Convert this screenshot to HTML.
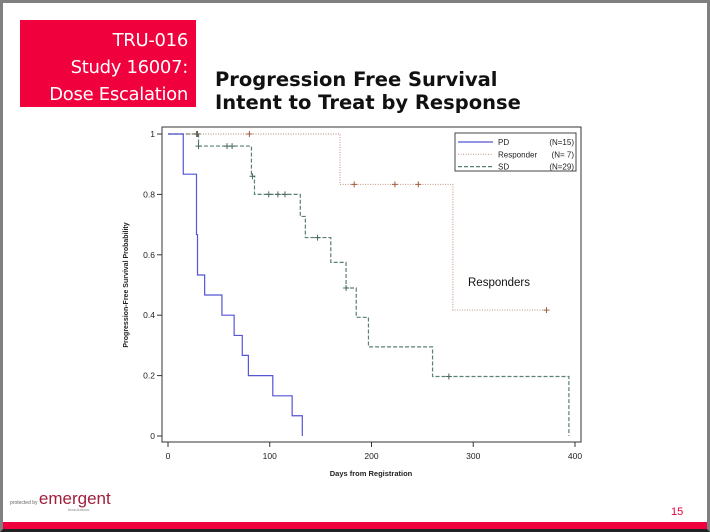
<!DOCTYPE html>
<html><head><meta charset="utf-8"><style>
body{margin:0;width:710px;height:532px;overflow:hidden;background:#fff;font-family:"Liberation Sans",sans-serif}
#frame{position:absolute;left:0;top:0;width:704px;height:526px;border:3px solid #808080;border-bottom:3px solid #222}
#tag{position:absolute;left:20px;top:20px;width:176px;height:87px;background:#f0003c;color:#fff;font-family:"DejaVu Sans",sans-serif;font-size:18px;line-height:27px;text-align:right;box-sizing:border-box;padding:7px 8px 0 0;letter-spacing:-0.3px}
#title{position:absolute;left:215px;top:68px;font-family:"DejaVu Sans",sans-serif;font-weight:bold;font-size:19.5px;line-height:23px;color:#111}
#bar{position:absolute;left:3px;top:522px;width:704px;height:7px;background:#f0003c}
#pg{position:absolute;left:671px;top:506px;font-size:11px;color:#e0003c}
#logo{position:absolute;left:10px;top:489px;color:#a0203c;font-size:17px}
</style></head><body>
<div id="frame"></div>
<div id="tag">TRU-016<br>Study 16007:<br>Dose Escalation</div>
<div id="title">Progression Free Survival<br>Intent to Treat by Response</div>
<div id="logo"><span style="font-size:5px;color:#666">protected by </span>emergent<div style="font-size:4px;color:#888;margin-left:58px;margin-top:-2px">biosolutions</div></div>
<div id="pg">15</div>
<div id="bar"></div>
<svg id="chart" width="710" height="532" style="position:absolute;left:0;top:0"></svg>
<script>
const pdTimes=[0,15,28,29,36,53,65,73,79,103,122,132];
const pdSurv=[1,0.867,0.667,0.533,0.467,0.4,0.333,0.267,0.2,0.133,0.067,0];
const pdEnd=132;
const rTimes=[0,169,280];
const rSurv=[1,0.833,0.417];
const rEnd=372;
const rCensT=[28,80,183,223,246,372];
const rCensS=[1,1,0.833,0.833,0.833,0.417];
const sdTimes=[0,30,82,85,130,135,160,175,185,197,260,394];
const sdSurv=[1,0.96,0.86,0.80,0.727,0.657,0.575,0.49,0.393,0.295,0.197,0];
const sdEnd=394;
const sdCensT=[29,30,58,63,83,99,108,115,147,175,276];
const sdCensS=[1,0.96,0.96,0.96,0.86,0.80,0.80,0.80,0.657,0.49,0.197];
const xTicks=[0,100,200,300,400];
const yTicks=[0,0.2,0.4,0.6,0.8,1];
const X=d=>168+d*407/400, Y=p=>436-p*302;
const svg=document.getElementById('chart');const NS='http://www.w3.org/2000/svg';
function el(t,a,p){const e=document.createElementNS(NS,t);for(const k in a)e.setAttribute(k,a[k]);(p||svg).appendChild(e);return e;}
const fr=el('rect',{x:162,y:127,width:419,height:315,fill:'none',stroke:'#333','stroke-width':1});


xTicks.forEach(v=>{el('line',{x1:X(v),x2:X(v),y1:442,y2:447,stroke:'#333'});const t=el('text',{x:X(v),y:459,'font-size':8.5,'text-anchor':'middle',fill:'#222'});t.textContent=v;

});
yTicks.forEach(v=>{el('line',{x1:157,x2:162,y1:Y(v),y2:Y(v),stroke:'#333'});const t=el('text',{x:155,y:Y(v)+3,'font-size':8.5,'text-anchor':'end',fill:'#222'});t.textContent=v;

});
let t=el('text',{x:371,y:476,'font-size':7.5,'font-weight':'bold','text-anchor':'middle',fill:'#222'});t.textContent='Days from Registration';


t=el('text',{x:0,y:0,'font-size':7,'font-weight':'bold','text-anchor':'middle',fill:'#222',transform:'translate(128,285) rotate(-90)'});t.textContent='Progression-Free Survival Probability';


function step(ts,ss,end,col,dash,name){let d='M'+X(ts[0])+','+Y(ss[0]);for(let i=1;i<ts.length;i++){d+='H'+X(ts[i])+'V'+Y(ss[i]);}d+='H'+X(end);
const p=el('path',{d:d,fill:'none',stroke:col,'stroke-width':1.2,'stroke-dasharray':dash});

}
function cens(ts,ss,col,name){ts.forEach((v,i)=>{const g=el('path',{d:`M${X(v)-3},${Y(ss[i])}h6M${X(v)},${Y(ss[i])-3}v6`,stroke:col,'stroke-width':1});

});}
step(sdTimes,sdSurv,sdEnd,'#5a8070','4,2','sd-line');
step(rTimes,rSurv,rEnd,'#c8a090','1,1.5','responder-line');
step(pdTimes,pdSurv,pdEnd,'#5555d5','','pd-line');
cens(rCensT,rCensS,'#a06040','responder-censor');
cens(sdCensT,sdCensS,'#4a6a60','sd-censor');
const lg=el('g',{});
el('rect',{x:455,y:133,width:121,height:38,fill:'#fff',stroke:'#444'},lg);
const ent=[['PD','(N=15)','#5555d5',''],['Responder','(N= 7)','#c8a090','1,1.5'],['SD','(N=29)','#5a8070','4,2']];
ent.forEach((e,i)=>{const y=142+i*12.3;el('line',{x1:458,x2:493,y1:y,y2:y,stroke:e[2],'stroke-width':1.2,'stroke-dasharray':e[3]},lg);
const a=el('text',{x:498,y:y+3,'font-size':8,fill:'#222'},lg);a.textContent=e[0];
const b=el('text',{x:574,y:y+3,'font-size':8,'text-anchor':'end',fill:'#222'},lg);b.textContent=e[1];});
t=el('text',{x:468,y:286,'font-size':11.5,fill:'#111'});t.textContent='Responders';


</script>
</body></html>
